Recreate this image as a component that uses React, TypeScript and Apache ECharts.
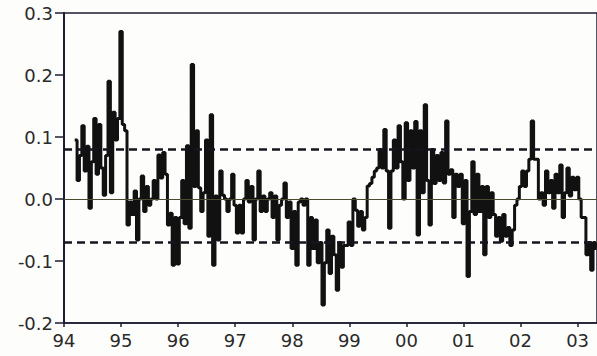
import React, { useEffect, useRef } from "react";
import * as echarts from "echarts";

// Semi-monthly observations starting Jan 1994 (null = before sample start)
const startYear = 1994;
const periodsPerYear = 24;
const values: (number | null)[] = [
  null, null, null, null, null,
  0.095, 0.03, 0.07, 0.118, 0.045, 0.085, -0.015, 0.06, 0.13, 0.04,
  0.12, 0.05, 0.006, 0.07, 0.19, 0.01, 0.14, 0.095, 0.13, 0.27,
  0.12, 0.11, -0.042, -0.005, -0.025, 0.013, -0.066, 0.0, 0.037, -0.02,
  0.02, -0.01, 0.0, 0.03, 0.0, 0.071, 0.034, 0.075, 0.04, -0.042,
  -0.023, -0.107, -0.03, -0.105, -0.03, 0.03, -0.04, 0.086, -0.047, 0.217,
  0.02, 0.11, 0.018, -0.02, 0.01, 0.095, -0.06, 0.136, -0.107, 0.005,
  -0.066, 0.045, 0.006, 0.0, -0.02, 0.0, 0.04, -0.01, -0.055, -0.01,
  -0.055, 0.0, 0.03, -0.005, 0.02, -0.066, 0.0, 0.045, -0.02, 0.005,
  -0.02, 0.0, 0.01, -0.03, 0.005, -0.066, -0.01, 0.0, 0.026, -0.03,
  -0.005, -0.08, -0.02, -0.107, -0.005, 0.0, -0.01, 0.0, -0.107, -0.03,
  -0.08, -0.034, -0.103, -0.07, -0.171, -0.103, -0.05, -0.12, -0.06, -0.09,
  -0.147, -0.07, -0.11, -0.075, -0.075, -0.037, -0.075, 0.0, -0.018, -0.044,
  -0.02, -0.05, -0.03, 0.021, 0.025, 0.035, 0.045, 0.05, 0.08, 0.05,
  0.112, 0.045, -0.047, 0.045, 0.095, 0.05, 0.118, 0.06, 0.0, 0.123,
  0.03, 0.11, 0.05, 0.125, -0.058, 0.11, 0.01, 0.152, 0.03, -0.042,
  0.08, 0.025, 0.07, 0.03, 0.075, 0.026, 0.126, 0.04, 0.047, -0.03,
  0.04, 0.02, 0.04, -0.04, 0.03, -0.125, -0.02, 0.06, -0.025, 0.04,
  -0.02, 0.02, -0.09, 0.02, -0.03, 0.01, -0.025, -0.06, -0.03, -0.068,
  -0.025, -0.06, -0.046, -0.075, -0.05, -0.01, 0.0, 0.02, 0.045, 0.02,
  0.045, 0.064, 0.126, 0.064, 0.064, 0.0, 0.01, -0.01, 0.045, 0.01,
  0.03, -0.015, 0.04, 0.01, 0.055, -0.03, 0.01, 0.05, 0.005, 0.035,
  0.015, 0.035, 0.0, -0.03, -0.03, -0.09, -0.07, -0.115, -0.07, -0.08,
];

const bandUpper = 0.08;
const bandLower = -0.073;
const xMin = 1994;
const xMax = 2003.34;
const yMin = -0.2;
const yMax = 0.3;

export default function App() {
  const ref = useRef<HTMLDivElement>(null);

  useEffect(() => {
    if (!ref.current) return;
    const chart = echarts.init(ref.current, undefined, { renderer: "svg" });
    const data = values.map((v, i) => [startYear + i / periodsPerYear, v]);
    const labelFont = {
      fontFamily: "DejaVu Sans",
      fontSize: 18,
      color: "#2a2a2a",
    };
    chart.setOption({
      animation: false,
      backgroundColor: "#fdfdfb",
      grid: {
        left: 64,
        top: 13,
        right: -3,
        bottom: 33,
        show: true,
        borderColor: "#1c1c33",
        borderWidth: 1.5,
        backgroundColor: "transparent",
      },
      xAxis: {
        type: "value",
        min: xMin,
        max: xMax,
        interval: 1,
        splitLine: { show: false },
        axisLine: { show: true, onZero: false, lineStyle: { color: "#1c1c33", width: 1.5 } },
        axisTick: { show: true, length: 4, lineStyle: { color: "#1c1c33", width: 1.5 } },
        axisLabel: {
          ...labelFont,
          margin: 8,
          showMaxLabel: false,
          formatter: (v: number) => String(Math.round(v)).slice(2),
        },
      },
      yAxis: {
        type: "value",
        min: yMin,
        max: yMax,
        interval: 0.1,
        splitLine: { show: false },
        axisLine: { show: true, lineStyle: { color: "#1c1c33", width: 2 } },
        axisTick: { show: true, length: 9, lineStyle: { color: "#1c1c33", width: 1.5 } },
        axisLabel: {
          ...labelFont,
          margin: 11,
          formatter: (v: number) => (Math.abs(v) < 1e-9 ? "0.0" : v.toFixed(1)),
        },
      },
      series: [
        {
          type: "line",
          data,
          step: "middle",
          showSymbol: false,
          connectNulls: false,
          lineStyle: { color: "#111111", width: 3 },
          z: 3,
          markLine: {
            silent: true,
            symbol: "none",
            label: { show: false },
            data: [
              { yAxis: 0, lineStyle: { type: "solid", color: "#4a4a30", width: 1 } },
              { yAxis: bandUpper, lineStyle: { type: [8, 5], color: "#151520", width: 2.6 } },
              { yAxis: bandLower, lineStyle: { type: [8, 5], color: "#151520", width: 2.6 } },
            ],
          },
        },
      ],
    });
    return () => chart.dispose();
  }, []);

  return (
    <div
      ref={ref}
      style={{ position: "absolute", left: 0, top: 0, width: 597, height: 356 }}
    />
  );
}
